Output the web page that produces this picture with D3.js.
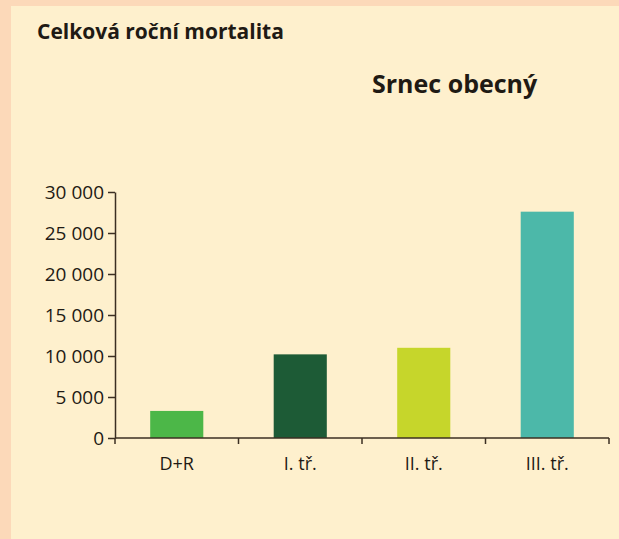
<!DOCTYPE html>
<html>
<head>
<meta charset="utf-8">
<script src="https://cdn.jsdelivr.net/npm/d3@7"></script>
<style>
  html, body { margin: 0; padding: 0; background: #fcd9b9; }
  svg { display: block; }
  text { font-family: "Open Sans", "Noto Sans", sans-serif; fill: #1f1a14; }
</style>
</head>
<body>
<svg id="chart" width="619" height="539"></svg>
<script>
const categories = ["D+R", "I. tř.", "II. tř.", "III. tř."];
const values = [3300, 10200, 11000, 27600];
const colors = ["#4cb748", "#1d5b36", "#c6d62b", "#4cb8a9"];
const yTicks = [0, 5000, 10000, 15000, 20000, 25000, 30000];

const svg = d3.select("#chart");
const W = 619, H = 539;
const margin = { left: 115, right: 10, top: 192, bottom: 101 };

// panel background
svg.append("rect")
    .attr("x", 11).attr("y", 6)
    .attr("width", W - 11).attr("height", H - 6)
    .attr("fill", "#fef0cd");

svg.append("text")
    .attr("x", 37).attr("y", 39)
    .style("font-size", "21px").style("font-weight", "bold")
    .text("Celková roční mortalita");

svg.append("text")
    .attr("x", 372).attr("y", 93)
    .style("font-size", "25px").style("font-weight", "bold")
    .text("Srnec obecný");

const x = d3.scaleBand()
    .domain(categories)
    .range([margin.left, W - margin.right])
    .paddingInner(0.57)
    .paddingOuter(0.285);

const y = d3.scaleLinear()
    .domain([0, 30000])
    .range([H - margin.bottom, margin.top]);

const fmt = v => d3.format(",")(v).replace(/,/g, " ");

svg.append("g")
    .selectAll("rect")
    .data(values)
    .join("rect")
    .attr("x", (d, i) => x(categories[i]))
    .attr("y", d => y(d))
    .attr("width", x.bandwidth())
    .attr("height", d => y(0) - y(d))
    .attr("fill", (d, i) => colors[i]);

const axisColor = "#3b2f22";

const yAxis = svg.append("g")
    .attr("transform", `translate(${margin.left},0)`)
    .call(d3.axisLeft(y).tickValues(yTicks).tickFormat(fmt).tickSize(7).tickSizeOuter(0));
yAxis.select(".domain").attr("stroke", axisColor).attr("stroke-width", 1.5);
yAxis.selectAll(".tick line").attr("stroke", axisColor).attr("stroke-width", 1.5);
yAxis.selectAll(".tick text")
    .attr("x", -11)
    .style("font-size", "19px")
    .style("font-family", "'Open Sans', sans-serif")
    .attr("fill", "#2b2218");

// x axis: ticks at band boundaries
const step = x.step();
const bounds = d3.range(categories.length + 1).map(i => margin.left + i * step);
const xg = svg.append("g");
xg.append("line")
    .attr("x1", margin.left).attr("x2", bounds[bounds.length - 1])
    .attr("y1", y(0)).attr("y2", y(0))
    .attr("stroke", axisColor).attr("stroke-width", 1.5);
xg.selectAll("line.tk")
    .data(bounds)
    .join("line")
    .attr("class", "tk")
    .attr("x1", d => d).attr("x2", d => d)
    .attr("y1", y(0)).attr("y2", y(0) + 6)
    .attr("stroke", axisColor).attr("stroke-width", 1.5);
xg.selectAll("text")
    .data(categories)
    .join("text")
    .attr("x", d => x(d) + x.bandwidth() / 2)
    .attr("y", y(0) + 32)
    .attr("text-anchor", "middle")
    .style("font-size", "18px")
    .attr("fill", "#2b2218")
    .text(d => d);
</script>
</body>
</html>
